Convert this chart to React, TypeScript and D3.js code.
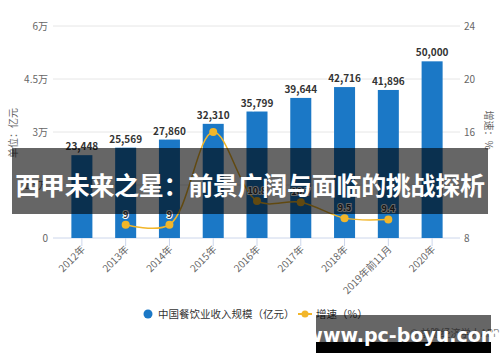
import React from "react";
import * as d3 from "d3";

const categories = ["2012年", "2013年", "2014年", "2015年", "2016年", "2017年", "2018年", "2019年前11月", "2020年"];
const revenue = [23448, 25569, 27860, 32310, 35799, 39644, 42716, 41896, 50000];
const growth: (number | null)[] = [null, 9, 9, 16, 10.8, 10.7, 9.5, 9.4, null];
const growthLabelHidden = ["2015年"];
const leftTicks = [0, 15000, 30000, 45000, 60000];
const leftTickLabels = ["0", "1.5万", "3万", "4.5万", "6万"];
const rightTicks = [8, 12, 16, 20, 24];

const W = 500;
const H = 362;
const font = "'Noto Sans CJK SC', 'Noto Sans', sans-serif";
const blue = "#1b78c6";
const gold = "#f2b62a";

export default function App() {
  const x = d3.scaleBand().domain(categories).range([60, 454]).paddingInner(0.52).paddingOuter(0.26);
  const yL = d3.scaleLinear().domain([0, 60000]).range([238, 26]);
  const yR = d3.scaleLinear().domain([8, 24]).range([238, 26]);
  const cx = (c: string) => (x(c) ?? 0) + x.bandwidth() / 2;

  const pts = categories
    .map((c, i) => ({ c, v: growth[i] }))
    .filter((d) => d.v !== null) as { c: string; v: number }[];
  const line = d3
    .line<{ c: string; v: number }>()
    .x((d) => cx(d.c))
    .y((d) => yR(d.v))
    .curve(d3.curveCatmullRom.alpha(0.5));

  return (
    <svg width={W} height={H} style={{ position: "absolute", left: 0, top: 0, background: "#fff" }} fontFamily={font}>
      {/* grid */}
      {leftTicks.map((t, i) => (
        <line key={"g" + i} x1={53} x2={460} y1={yL(t)} y2={yL(t)} stroke={i === 0 ? "#ccd6eb" : "#e6e6e6"} strokeWidth={1} />
      ))}
      {leftTicks.map((t, i) => (
        <text key={"l" + i} x={48} y={yL(t) + 4} textAnchor="end" fontSize={10} fill="#666">
          {leftTickLabels[i]}
        </text>
      ))}
      {rightTicks.map((t, i) => (
        <text key={"r" + i} x={464} y={yR(t) + 4} fontSize={10} fill="#666">
          {t}
        </text>
      ))}
      <text transform="translate(17,133) rotate(-90)" textAnchor="middle" fontSize={10} fill="#666">
        单位：亿元
      </text>
      <text transform="translate(485,130) rotate(90)" textAnchor="middle" fontSize={10} fill="#666">
        增速：%
      </text>

      {/* x ticks and labels */}
      {categories.map((c) => (
        <g key={"x" + c}>
          <line x1={cx(c)} x2={cx(c)} y1={238} y2={246} stroke="#ccd6eb" />
          <text transform={`translate(${cx(c) + 4},${250}) rotate(-45)`} textAnchor="end" fontSize={10} fill="#666">
            {c}
          </text>
        </g>
      ))}

      {/* bars */}
      {categories.map((c, i) => (
        <g key={"b" + c}>
          <rect x={x(c)} y={yL(revenue[i])} width={x.bandwidth()} height={238 - yL(revenue[i])} fill={blue} />
          <text x={cx(c)} y={yL(revenue[i]) - 5} textAnchor="middle" fontSize={10} fontWeight="bold" fill="#333"
            stroke="#fff" strokeWidth={2} paintOrder="stroke">
            {d3.format(",")(revenue[i])}
          </text>
        </g>
      ))}

      {/* growth line */}
      <path d={line(pts) ?? ""} fill="none" stroke={gold} strokeWidth={1.5} />
      {pts.map((d) => (
        <circle key={"p" + d.c} cx={cx(d.c)} cy={yR(d.v)} r={4} fill={gold} />
      ))}
      {pts
        .filter((d) => !growthLabelHidden.includes(d.c))
        .map((d) => (
          <text key={"pl" + d.c} x={cx(d.c)} y={yR(d.v) - 7} textAnchor="middle" fontSize={9} fontWeight="bold" fill="#333"
            stroke="#fff" strokeWidth={2} paintOrder="stroke">
            {d.v}
          </text>
        ))}

      {/* legend */}
      <circle cx={148} cy={314} r={4.5} fill={blue} />
      <text x={158} y={318} fontSize={10.5} fill="#333">中国餐饮业收入规模（亿元）</text>
      <line x1={298} x2={312} y1={314} y2={314} stroke={gold} strokeWidth={2} />
      <circle cx={305} cy={314} r={3.5} fill={gold} />
      <text x={316} y={318} fontSize={10.5} fill="#333">增速（%）</text>
      <text x={410} y={337} fontSize={10} fill="#888">© 前瞻经济学人APP</text>

      {/* overlays */}
      <rect x={12} y={148} width={476} height={66} fill="rgba(0,0,0,0.6)" />
      <text x={250} y={195} textAnchor="middle" fontSize={25} fontWeight="bold" fill="#fff" letterSpacing={-0.3}>
        西甲未来之星：前景广阔与面临的挑战探析
      </text>
      <rect x={316} y={315} width={175} height={27} fill="rgba(0,0,0,0.6)" />
      <rect x={316} y={342} width={175} height={11} fill="#000" />
      <text x={403} y={342} textAnchor="middle" fontSize={19} fontWeight="bold" fill="#fff" fontFamily="'DejaVu Sans', sans-serif">
        www.pc-boyu.com
      </text>
    </svg>
  );
}
